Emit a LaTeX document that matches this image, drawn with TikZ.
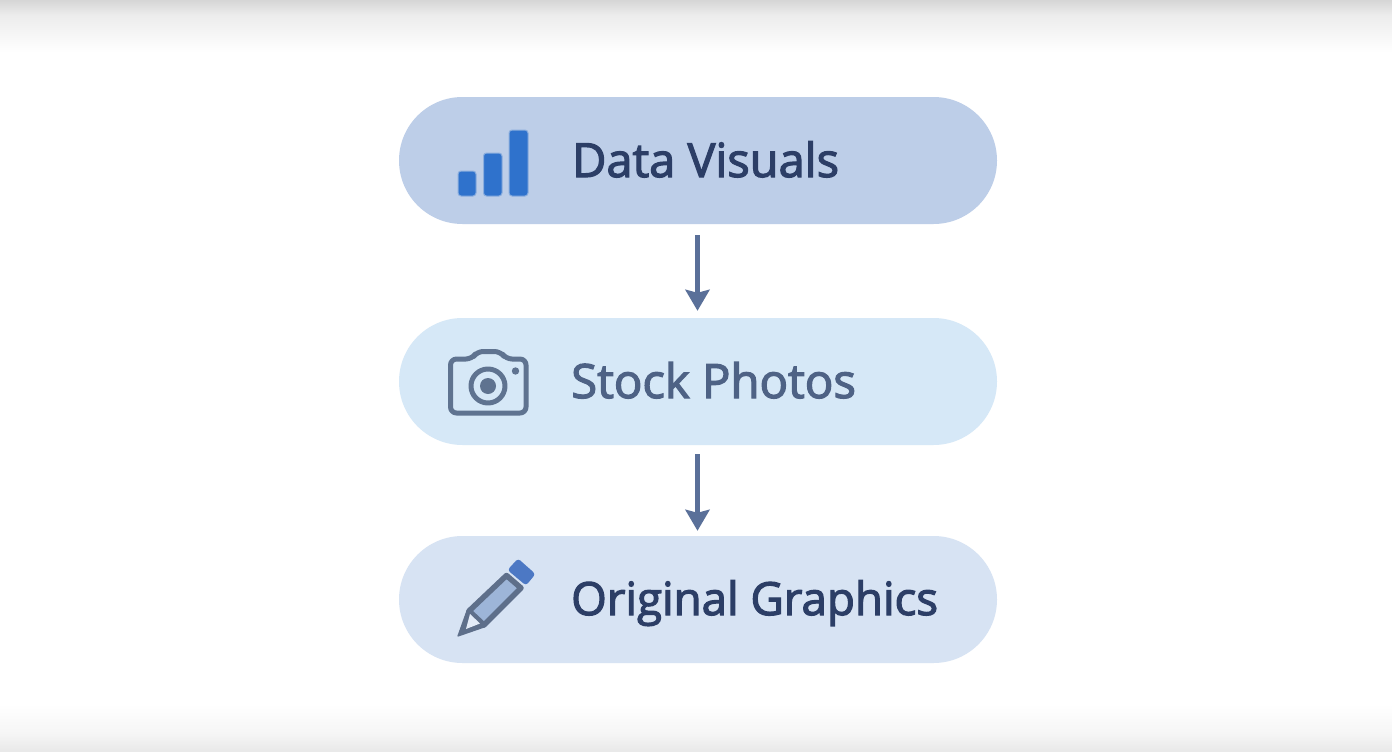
\documentclass[tikz,border=0pt]{standalone}
\usepackage{fontspec}
\setmainfont{Open Sans}[FakeBold=2.6]
\usetikzlibrary{arrows.meta}
\definecolor{pillA}{HTML}{BDCEE8}
\definecolor{pillB}{HTML}{D6E8F7}
\definecolor{pillC}{HTML}{D7E3F3}
\definecolor{txtDark}{HTML}{2C3E66}
\definecolor{txtMid}{HTML}{4E6285}
\definecolor{arrowCol}{HTML}{5A7099}
\definecolor{barCol}{HTML}{2F72CC}
\definecolor{camCol}{HTML}{5F7390}
\definecolor{penCol}{HTML}{5E6F8A}
\definecolor{penFill}{HTML}{9DB5D8}
\definecolor{eraser}{HTML}{4C78C4}
\definecolor{shTop}{HTML}{D6D6D6}
\definecolor{shMid}{HTML}{ECECEC}
\definecolor{shBot}{HTML}{E8E8E8}
\definecolor{shLow}{HTML}{F6F6F6}
\tikzset{
  x=1pt,y=-1pt,
  pill/.style={draw=none,minimum width=598pt,minimum height=127pt,rounded corners=63.5pt,inner sep=0pt},
  label/.style={anchor=base west,inner sep=0pt},
  labelA/.style={label,font=\fontsize{47}{50}\selectfont},
  labelB/.style={label,font=\fontsize{47.3}{50}\selectfont},
  labelC/.style={label,font=\fontsize{45.7}{50}\selectfont},
  conn/.style={draw=arrowCol,line width=5pt,-{Stealth[width=24pt,length=21pt,inset=3pt]}},
  bar/.style={fill=barCol,draw=barCol!35!pillA,line width=1pt,rounded corners=3pt},
  camline/.style={draw=camCol,line width=5pt,line join=round},
}
\begin{document}
\begin{tikzpicture}
\useasboundingbox (0,0) rectangle (1392,752);
\fill[white] (0,0) rectangle (1392,752);
\shade[top color=shTop,bottom color=shMid] (0,0) rectangle (1392,15);
\shade[top color=shMid,bottom color=white] (0,15) rectangle (1392,52);
\shade[top color=white,bottom color=shLow] (0,704) rectangle (1392,733);
\shade[top color=shLow,bottom color=shBot] (0,733) rectangle (1392,752);

\node[pill,fill=pillA] (a) at (698,160.5) {};
\node[pill,fill=pillB] (b) at (698,381.5) {};
\node[pill,fill=pillC] (c) at (698,599.5) {};

\node[labelA,text=txtDark] (ta) at (572,177) {Data Visuals};
\node[labelB,text=txtMid] (tb) at (571,398) {Stock Photos};
\node[labelC,text=txtDark] (tc) at (571,615) {Original Graphics};

\draw[conn,shorten <=11pt,shorten >=7pt] ([xshift=-0.5pt]a.south) -- ([xshift=-0.5pt]b.north);
\draw[conn,shorten <=9pt,shorten >=5pt] ([xshift=-0.5pt]b.south) -- ([xshift=-0.5pt]c.north);

% bars
\draw[bar] (458,171) rectangle (476,196);
\draw[bar] (483.5,153) rectangle (502,196);
\draw[bar] (509,130) rectangle (528,196);

% camera
\draw[camline,rounded corners=6pt] (450.5,385) -- (450.5,413) -- (526,413) -- (526,359) -- (506,359) -- (500.5,351.5) -- (477,351.5) -- (472,359) -- (450.5,359) -- cycle;
\draw[camline] (488,386) circle (17pt);
\fill[camCol] (488,386) circle (8pt);
\fill[camCol] (515.5,371) circle (3.7pt);

% pencil
\fill[eraser,rounded corners=3pt] (518,558.5) -- (535.5,574) -- (526,585.5) -- (507.5,570) -- cycle;
\draw[draw=penCol,fill=penFill,line width=5.5pt,line join=round] (506.5,575.5) -- (521,588) -- (484,625) -- (469,611) -- cycle;
\fill[penCol,rounded corners=1pt] (467,609) -- (486,627) -- (457,637) -- cycle;
\fill[pillC!70!white] (470,614) -- (480,623.5) -- (466,629) -- cycle;
\end{tikzpicture}
\end{document}
